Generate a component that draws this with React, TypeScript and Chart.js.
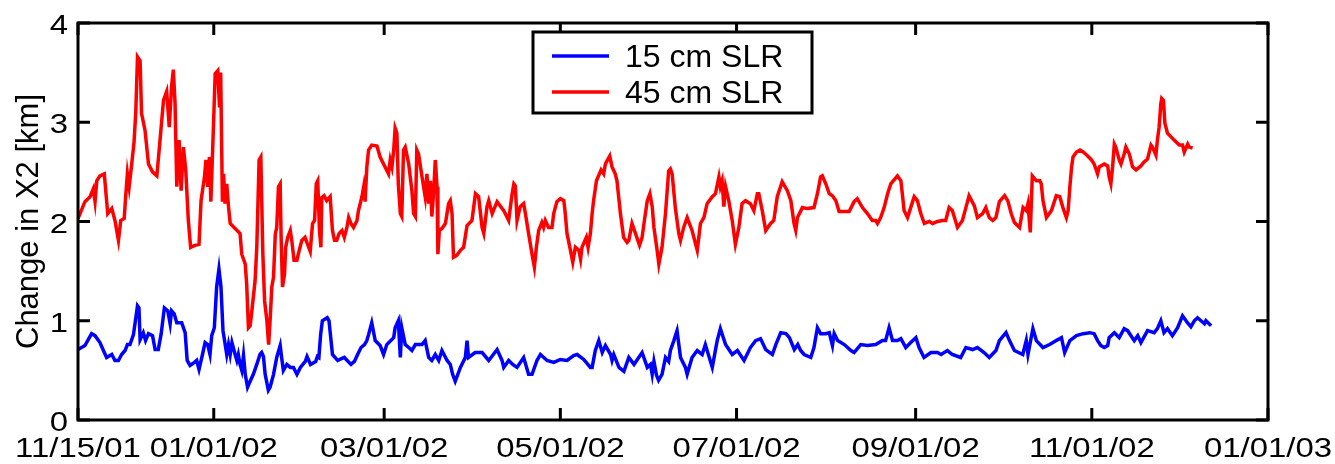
import React, { useEffect, useRef } from 'react';
import { Chart, registerables } from 'chart.js';

Chart.register(...registerables);

// x values are days elapsed since 11/15/01
const tickDays = [0, 47, 106, 167, 228, 290, 351, 412];
const tickLabels = ['11/15/01', '01/01/02', '03/01/02', '05/01/02', '07/01/02', '09/01/02', '11/01/02', '01/01/03'];
const yTickValues = [0, 1, 2, 3, 4];
const seriesLabels = ['15 cm SLR', '45 cm SLR'];
const seriesColors = ['#0000ff', '#ff0000'];

const blueDays = [
  0, 2.4, 4.7, 5.9, 7.6, 8.8, 9.9, 11.7, 12.8, 14, 15.1, 16.3, 17.1, 18, 19.2, 20.6, 21.1, 21.5, 22.6, 23.4,
  24.4, 25.8, 26.7, 27.8, 28.8, 29.9, 31.1, 31.9, 32.4, 33.3, 34.2, 35.9, 37.1, 37.8, 38.8, 40.3, 41.1, 41.9, 43.1, 44,
  44.9, 45.7, 46.3, 47.2, 48, 48.8, 49.5, 50.2, 51.5, 52.1, 52.7, 53.3, 54.4, 55, 55.5, 56.1, 56.7, 57.3, 57.9, 58.7,
  59.6, 60.7, 61.9, 63, 63.6, 64.2, 64.8, 65.9, 66.5, 67.7, 68.8, 70, 70.5, 71.1, 72.3, 73.5, 74.6, 75.8, 77, 78.7,
  79.3, 80.5, 82.3, 82.9, 83.4, 84, 84.6, 86.3, 86.9, 87.5, 88.1, 89.9, 92.2, 94.5, 95.7, 96.8, 98, 99.2, 100, 100.6,
  101.7, 102.9, 104.6, 105.8, 106.9, 109.3, 109.8, 110.9, 111.6, 112.1, 113.3, 114.5, 115.6, 116.8, 119.1, 120.2, 121.4, 122.5, 123.7, 124.9,
  126, 127.8, 128.9, 129.7, 130.6, 132.4, 134.1, 134.7, 135.2, 137.5, 139.9, 142.2, 145.1, 146.8, 147.4, 149.1, 150.5, 152, 154.3, 156,
  157.2, 158.9, 160.1, 162.4, 164.7, 167, 169.3, 171.6, 172.8, 175.1, 177.4, 178, 179.1, 180.3, 181.5, 182.6, 184.4, 184.9, 185.5, 187.3,
  189, 190.7, 192.5, 195.3, 197.1, 198.2, 198.8, 199.4, 200.3, 201, 202.2, 203.4, 204.5, 205.1, 206.3, 207.4, 208.6, 210.3, 210.9, 212.6,
  214.4, 216.1, 217.2, 219.6, 221.3, 222.4, 224.2, 226.5, 228.3, 230.6, 232.8, 234.6, 236.3, 238.1, 240.4, 241.6, 243.3, 245.1, 246.3, 248,
  249.2, 250.2, 251.4, 253.7, 254.8, 256, 257.1, 258.9, 260.1, 261.2, 261.8, 263, 265.3, 267.6, 268.7, 271, 273.3, 276.2, 278.5, 279.6,
  280.8, 282, 283.7, 284.9, 286.6, 288.3, 290.1, 291.2, 292.9, 295.3, 297.6, 298.8, 301, 302.7, 305.6, 307.4, 309.7, 311.4, 313.7, 315.5,
  317.8, 319, 321.3, 322.5, 324.2, 327.1, 328.3, 328.9, 330.6, 331.8, 334.1, 336.4, 338.7, 340.5, 341.6, 343.4, 345.7, 348, 350.3, 351.8,
  353, 354.1, 355.3, 356.5, 357, 358.8, 360.5, 362.2, 363.4, 365.7, 366.9, 368, 370.3, 372.6, 373.7, 374.9, 376, 377.2, 378.9, 380.7,
  382.4, 384.1, 385.3, 386.5, 387.6, 390, 390.5, 392.3,
];
const blueValues = [
  0.71, 0.75, 0.87, 0.85, 0.78, 0.70, 0.63, 0.66, 0.60, 0.60, 0.66, 0.70, 0.76, 0.76, 0.86, 1.15, 1.13, 0.81, 0.88, 0.80,
  0.87, 0.85, 0.71, 0.71, 0.87, 1.13, 1.10, 0.97, 1.10, 1.07, 0.98, 0.98, 0.88, 0.60, 0.55, 0.58, 0.60, 0.51, 0.66, 0.78,
  0.76, 0.66, 0.85, 0.93, 1.34, 1.52, 1.34, 0.90, 0.66, 0.76, 0.66, 0.78, 0.66, 0.60, 0.66, 0.56, 0.50, 0.65, 0.46, 0.33,
  0.39, 0.46, 0.56, 0.66, 0.68, 0.64, 0.46, 0.30, 0.33, 0.46, 0.63, 0.75, 0.63, 0.50, 0.56, 0.53, 0.53, 0.46, 0.53, 0.59,
  0.64, 0.56, 0.59, 0.64, 0.63, 0.86, 1.00, 1.03, 1.00, 0.83, 0.66, 0.60, 0.63, 0.56, 0.59, 0.66, 0.73, 0.76, 0.80, 0.86,
  0.98, 0.80, 0.75, 0.66, 0.76, 0.83, 0.93, 1.00, 0.63, 0.93, 0.76, 0.73, 0.70, 0.76, 0.76, 0.80, 0.63, 0.60, 0.66, 0.60,
  0.70, 0.60, 0.56, 0.46, 0.39, 0.53, 0.63, 0.80, 0.63, 0.68, 0.68, 0.60, 0.71, 0.60, 0.53, 0.60, 0.56, 0.53, 0.63, 0.46,
  0.46, 0.60, 0.66, 0.60, 0.58, 0.61, 0.60, 0.65, 0.66, 0.61, 0.53, 0.53, 0.70, 0.80, 0.68, 0.75, 0.66, 0.60, 0.66, 0.53,
  0.49, 0.63, 0.56, 0.68, 0.53, 0.56, 0.46, 0.59, 0.45, 0.40, 0.46, 0.63, 0.59, 0.70, 0.80, 0.90, 0.63, 0.53, 0.46, 0.63,
  0.70, 0.66, 0.76, 0.53, 0.80, 0.92, 0.76, 0.66, 0.70, 0.60, 0.73, 0.80, 0.82, 0.71, 0.66, 0.76, 0.88, 0.87, 0.83, 0.71,
  0.76, 0.70, 0.66, 0.63, 0.73, 0.93, 0.87, 0.87, 0.88, 0.75, 0.87, 0.80, 0.76, 0.70, 0.68, 0.76, 0.75, 0.76, 0.80, 0.80,
  0.93, 0.80, 0.80, 0.82, 0.73, 0.78, 0.83, 0.73, 0.63, 0.68, 0.68, 0.66, 0.70, 0.66, 0.63, 0.73, 0.71, 0.73, 0.68, 0.63,
  0.70, 0.80, 0.88, 0.80, 0.70, 0.66, 0.80, 0.66, 0.92, 0.80, 0.73, 0.76, 0.80, 0.83, 0.68, 0.80, 0.85, 0.87, 0.88, 0.87,
  0.80, 0.75, 0.73, 0.75, 0.83, 0.88, 0.83, 0.92, 0.90, 0.80, 0.85, 0.78, 0.90, 0.88, 0.92, 1.00, 0.88, 0.92, 0.85, 0.93,
  1.05, 0.98, 0.94, 1.00, 1.03, 0.97, 1.00, 0.95,
];

const redDays = [
  0, 2.4, 4.2, 5.3, 5.9, 6.5, 7.6, 9.1, 10.3, 11.7, 12.8, 14, 14.8, 16, 16.5, 17.1, 17.7, 18.6, 19.4, 20,
  20.6, 21.5, 22, 23.2, 24.4, 25.8, 27.3, 28.4, 29.6, 30.7, 31.6, 32.4, 33, 33.6, 34.2, 35, 35.7, 36.5, 37.3, 38.2,
  39, 40.5, 41.9, 42.6, 43.8, 44.3, 44.9, 45.5, 46, 46.5, 47.5, 48.4, 49, 49.4, 50, 50.4, 50.9, 51.5, 52.1, 52.7,
  54.4, 56.1, 56.7, 57.9, 58.4, 59, 59.6, 60.2, 61.3, 61.9, 62.7, 63.3, 64, 64.6, 65.4, 66, 66.5, 67.1, 67.7, 68.3,
  68.8, 69.4, 70, 70.3, 70.8, 71.5, 71.9, 72.6, 73.5, 74, 74.8, 75.8, 76.6, 77.5, 78.6, 79.5, 80.4, 81.2, 81.9, 82.5,
  83, 83.6, 84.1, 84.4, 85.2, 86.1, 87.3, 88.1, 88.8, 89.6, 90.4, 91.4, 92.2, 93.1, 93.7, 94.5, 95.4, 96.6, 97.1, 98.3,
  98.9, 99.4, 100, 100.6, 101.7, 103.5, 104.6, 105.8, 107.5, 108.1, 108.7, 109.3, 109.8, 110.4, 110.9, 111.6, 112.1, 112.7, 113.3, 114.5,
  115.6, 116.2, 116.8, 117.3, 117.9, 119.1, 120.2, 120.8, 121.4, 122, 122.5, 123.1, 123.7, 124.3, 124.6, 125.1, 126, 127.2, 128.3, 128.9,
  129.5, 130, 131.2, 132.4, 133.5, 134.7, 136.4, 137.6, 138.7, 139.9, 140.5, 141.6, 142.2, 143.4, 145.1, 147.4, 149.1, 150.3, 150.9, 151.4,
  152, 153.1, 154.3, 154.9, 156, 157.2, 158, 158.7, 159.5, 160.6, 161.2, 161.8, 162.9, 164.1, 164.7, 165.8, 167, 168.2, 168.7, 169.3,
  170.5, 171.3, 172.2, 173.4, 174, 174.5, 176, 176.6, 177.4, 178, 178.5, 179.5, 181.1, 182, 182.6, 184.1, 184.9, 186, 186.6, 187.8,
  188.9, 190.1, 190.7, 191.8, 193, 194.4, 195.3, 196.1, 197.1, 198, 198.8, 199.4, 200.5, 201.1, 202.2, 203.4, 204.5, 205.1, 205.7, 206.8,
  208, 208.6, 209.7, 210.9, 212.6, 214.4, 215.5, 216.7, 217.8, 219.6, 220.7, 221.9, 222.4, 223, 223.6, 224.2, 225.3, 226.5, 227.6, 228.8,
  229.9, 231.1, 232.8, 234, 235.2, 235.7, 236.9, 238.1, 239.8, 240.9, 242.1, 243.8, 245.6, 246.8, 247.9, 248.5, 249.1, 250.8, 252.5, 254.8,
  256, 257.1, 257.7, 258.9, 260.1, 261.2, 262.4, 263.5, 265.2, 267, 268.7, 269.8, 271.6, 273.3, 275, 276.2, 276.8, 277.9, 279.1, 280.3,
  281.4, 283.7, 284.9, 285.4, 286, 287.2, 288.3, 289.5, 290.6, 291.8, 293, 294.7, 295.9, 297.6, 299.3, 300.4, 301.6, 302.7, 304.5, 306.2,
  307.4, 308.5, 310.3, 311.4, 313.2, 314.3, 315.5, 316.7, 317.8, 319, 320.8, 321.9, 323.1, 324.2, 326, 327.2, 328.3, 328.9, 329.7, 330.4,
  331.8, 333, 333.5, 334.1, 335.3, 337, 338.7, 339.9, 341, 342.2, 342.8, 343.4, 344, 344.5, 345.7, 346.9, 348, 349.2, 350.9, 351.8,
  353, 353.6, 355.3, 356.5, 357, 357.6, 358.2, 358.8, 359.3, 360.5, 361.1, 362.2, 362.8, 364, 365.1, 366.3, 368, 369.1, 370.3, 371.5,
  372, 373.2, 373.7, 374.3, 374.9, 375.2, 375.8, 376.3, 377.2, 379.5, 381.3, 382.4, 383, 384.2, 384.7, 385.9,
];
const redValues = [
  2.03, 2.20, 2.25, 2.33, 2.20, 2.41, 2.46, 2.48, 2.08, 2.13, 2.01, 1.81, 2.01, 2.03, 2.25, 2.48, 2.35, 2.58, 2.80, 3.10,
  3.66, 3.62, 3.09, 2.92, 2.58, 2.50, 2.46, 2.82, 3.22, 3.31, 2.95, 3.36, 3.53, 3.19, 2.35, 2.82, 2.31, 2.75, 2.52, 2.01,
  1.74, 1.76, 1.77, 2.21, 2.45, 2.62, 2.35, 2.65, 2.20, 2.62, 3.49, 3.52, 3.15, 3.50, 2.20, 2.48, 2.18, 2.38, 2.15, 1.98,
  1.93, 1.88, 1.67, 1.57, 1.37, 0.93, 0.95, 1.10, 1.40, 1.74, 2.62, 2.65, 1.67, 1.20, 1.00, 0.76, 1.00, 1.34, 1.44, 1.87,
  1.94, 2.35, 2.38, 1.87, 1.34, 1.47, 1.74, 1.84, 1.91, 1.81, 1.61, 1.61, 1.71, 1.81, 1.84, 1.77, 1.70, 1.98, 2.01, 2.38,
  2.41, 1.91, 1.74, 2.24, 2.26, 2.21, 2.25, 1.91, 1.81, 1.81, 1.88, 1.91, 1.84, 1.94, 2.04, 1.98, 1.94, 2.01, 2.11, 2.25,
  2.35, 2.20, 2.55, 2.72, 2.77, 2.76, 2.65, 2.58, 2.48, 2.62, 2.55, 2.72, 2.94, 2.89, 2.38, 2.08, 2.05, 2.72, 2.75, 2.58,
  2.31, 2.08, 2.05, 2.72, 2.68, 2.45, 2.25, 2.48, 2.18, 2.41, 2.05, 2.28, 2.62, 2.35, 1.67, 1.91, 1.93, 1.98, 2.18, 2.21,
  2.08, 1.64, 1.66, 1.71, 1.74, 1.96, 2.01, 2.28, 2.25, 1.94, 1.88, 2.15, 2.21, 2.08, 2.20, 2.11, 2.01, 2.28, 2.38, 2.36,
  2.01, 2.15, 2.18, 2.08, 1.88, 1.67, 1.54, 1.74, 1.91, 1.99, 1.94, 2.01, 1.94, 1.94, 2.08, 2.20, 2.23, 2.21, 2.08, 1.88,
  1.71, 1.59, 1.74, 1.71, 1.62, 1.74, 1.84, 1.74, 1.88, 2.08, 2.21, 2.41, 2.52, 2.48, 2.58, 2.66, 2.55, 2.48, 2.41, 2.08,
  1.84, 1.79, 1.81, 1.98, 1.88, 1.76, 1.84, 2.01, 2.21, 2.28, 2.15, 1.94, 1.71, 1.57, 1.74, 2.08, 2.51, 2.53, 2.48, 2.14,
  1.88, 1.81, 1.94, 2.04, 1.91, 1.71, 1.98, 2.04, 2.18, 2.25, 2.28, 2.45, 2.35, 2.41, 2.15, 2.35, 2.21, 2.01, 1.77, 1.94,
  2.18, 2.21, 2.18, 2.11, 2.28, 2.28, 2.11, 1.91, 1.98, 2.01, 2.25, 2.40, 2.31, 2.21, 1.98, 1.91, 2.04, 2.14, 2.13, 2.14,
  2.28, 2.45, 2.46, 2.38, 2.28, 2.26, 2.21, 2.10, 2.10, 2.10, 2.20, 2.23, 2.14, 2.08, 2.01, 2.01, 1.98, 2.04, 2.14, 2.28,
  2.38, 2.46, 2.41, 2.28, 2.11, 2.04, 2.14, 2.25, 2.21, 2.08, 1.98, 2.00, 1.98, 2.00, 2.01, 2.01, 2.14, 2.11, 1.94, 2.01,
  2.14, 2.26, 2.16, 2.04, 2.08, 2.14, 2.04, 2.01, 2.04, 2.20, 2.26, 2.21, 2.08, 1.99, 1.94, 2.14, 2.11, 2.18, 1.89, 2.46,
  2.41, 2.41, 2.38, 2.21, 2.04, 2.11, 2.26, 2.25, 2.14, 2.04, 2.11, 2.35, 2.55, 2.65, 2.70, 2.72, 2.70, 2.67, 2.62, 2.58,
  2.48, 2.55, 2.58, 2.56, 2.45, 2.38, 2.55, 2.78, 2.75, 2.62, 2.58, 2.68, 2.75, 2.68, 2.55, 2.52, 2.56, 2.60, 2.63, 2.77,
  2.75, 2.67, 2.82, 2.95, 3.19, 3.24, 3.22, 2.99, 2.89, 2.82, 2.77, 2.77, 2.70, 2.78, 2.75, 2.74,
];

const FONT = '"Liberation Sans", Arial, Helvetica, sans-serif';

// Axes box, inward tick marks on all four sides and widened tick labels
const boxAxes = {
  id: 'boxAxes',
  afterDatasetsDraw(chart: any) {
    const { ctx, chartArea: a, scales } = chart;
    const xs = scales.x;
    const ys = scales.y;
    const tickLen = 12;
    ctx.save();
    ctx.strokeStyle = '#000';
    ctx.lineWidth = 3;
    ctx.strokeRect(a.left, a.top, a.right - a.left, a.bottom - a.top);
    ctx.beginPath();
    xs.ticks.forEach((t: any) => {
      const px = xs.getPixelForValue(t.value);
      ctx.moveTo(px, a.bottom);
      ctx.lineTo(px, a.bottom - tickLen);
      ctx.moveTo(px, a.top);
      ctx.lineTo(px, a.top + tickLen);
    });
    ys.ticks.forEach((t: any) => {
      const py = ys.getPixelForValue(t.value);
      ctx.moveTo(a.left, py);
      ctx.lineTo(a.left + tickLen, py);
      ctx.moveTo(a.right, py);
      ctx.lineTo(a.right - tickLen, py);
    });
    ctx.stroke();

    ctx.fillStyle = '#000';
    ctx.font = `27px ${FONT}`;
    ctx.textBaseline = 'alphabetic';
    const stretch = 1.22;
    xs.ticks.forEach((t: any, i: number) => {
      const px = xs.getPixelForValue(t.value);
      ctx.save();
      ctx.translate(px, a.bottom + 37);
      ctx.scale(stretch, 1);
      ctx.textAlign = 'center';
      ctx.fillText(tickLabels[i], 0, 0);
      ctx.restore();
    });
    ys.ticks.forEach((t: any) => {
      const py = ys.getPixelForValue(t.value);
      ctx.save();
      ctx.translate(a.left - 10, py + 11);
      ctx.scale(stretch, 1);
      ctx.textAlign = 'right';
      ctx.fillText(String(t.value), 0, 0);
      ctx.restore();
    });
    ctx.restore();
  },
};

// Boxed legend near the top centre of the plot
const boxLegend = {
  id: 'boxLegend',
  afterDraw(chart: any) {
    const { ctx, chartArea: a } = chart;
    const left = a.left + 455;
    const top = a.top + 9;
    const width = 279;
    const height = 81;
    ctx.save();
    ctx.fillStyle = '#fff';
    ctx.fillRect(left, top, width, height);
    ctx.strokeStyle = '#000';
    ctx.lineWidth = 3;
    ctx.strokeRect(left, top, width, height);
    chart.data.datasets.forEach((ds: any, i: number) => {
      const rowY = top + 24 + i * 36;
      ctx.strokeStyle = ds.borderColor;
      ctx.lineWidth = 3.5;
      ctx.beginPath();
      ctx.moveTo(left + 19, rowY);
      ctx.lineTo(left + 76, rowY);
      ctx.stroke();
      ctx.fillStyle = '#000';
      ctx.font = `32px ${FONT}`;
      ctx.textAlign = 'left';
      ctx.textBaseline = 'alphabetic';
      ctx.fillText(ds.label, left + 92, rowY + 11);
    });
    ctx.restore();
  },
};

export default function App() {
  const canvasRef = useRef<HTMLCanvasElement | null>(null);

  useEffect(() => {
    const canvas = canvasRef.current;
    if (!canvas) return;
    const toPoints = (days: number[], values: number[]) => days.map((d, i) => ({ x: d, y: values[i] }));
    const chart = new Chart(canvas, {
      type: 'line',
      data: {
        datasets: [
          {
            label: seriesLabels[0],
            data: toPoints(blueDays, blueValues),
            borderColor: seriesColors[0],
            backgroundColor: seriesColors[0],
            borderWidth: 3.5,
            pointRadius: 0,
            fill: false,
            tension: 0,
          },
          {
            label: seriesLabels[1],
            data: toPoints(redDays, redValues),
            borderColor: seriesColors[1],
            backgroundColor: seriesColors[1],
            borderWidth: 3.5,
            pointRadius: 0,
            fill: false,
            tension: 0,
          },
        ],
      },
      options: {
        responsive: false,
        animation: false,
        devicePixelRatio: 1,
        events: [],
        layout: { padding: { left: 0, right: 67, top: 23, bottom: 0 } },
        plugins: {
          legend: { display: false },
          tooltip: { enabled: false },
        },
        scales: {
          x: {
            type: 'linear',
            min: tickDays[0],
            max: tickDays[tickDays.length - 1],
            grid: { display: false },
            border: { display: false },
            ticks: { display: false },
            afterBuildTicks: (s: any) => {
              s.ticks = tickDays.map((v) => ({ value: v }));
            },
            afterFit: (s: any) => {
              s.height = 44;
            },
          },
          y: {
            type: 'linear',
            min: 0,
            max: 4,
            grid: { display: false },
            border: { display: false },
            ticks: { display: false },
            afterBuildTicks: (s: any) => {
              s.ticks = yTickValues.map((v) => ({ value: v }));
            },
            afterFit: (s: any) => {
              s.width = 78;
            },
            title: {
              display: true,
              text: 'Change in X2 [km]',
              color: '#000',
              font: { family: FONT, size: 31 },
              padding: { top: 11, bottom: 0 },
            },
          },
        },
      } as any,
      plugins: [boxAxes, boxLegend],
    });
    return () => chart.destroy();
  }, []);

  return (
    <div style={{ position: 'absolute', left: 0, top: 0, width: 1335, height: 464, background: '#fff' }}>
      <canvas ref={canvasRef} width={1335} height={464} />
    </div>
  );
}
